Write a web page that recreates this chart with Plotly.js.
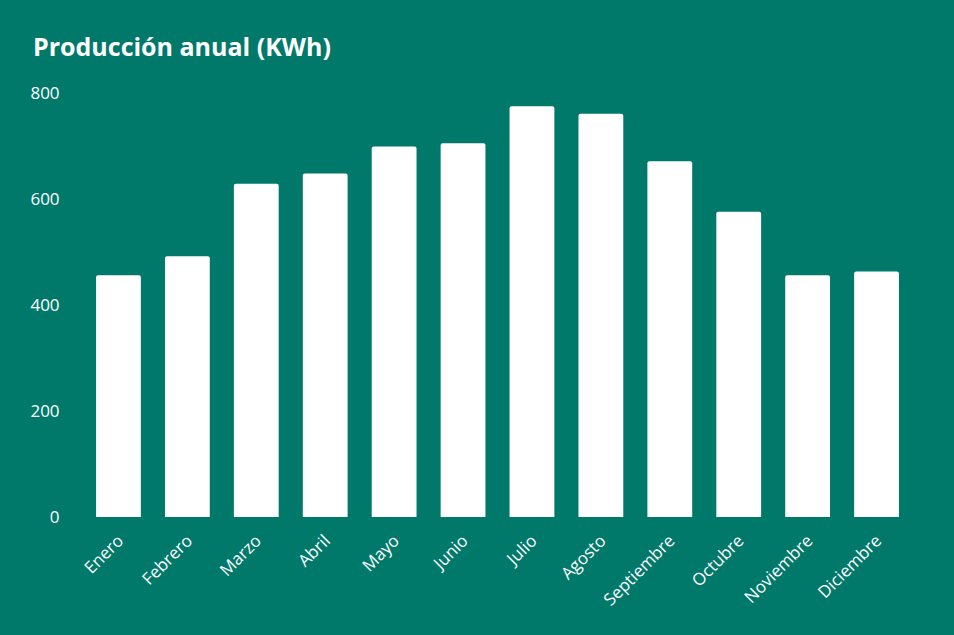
<!DOCTYPE html>
<html>
<head>
<meta charset="utf-8">
<script src="https://cdn.plot.ly/plotly-3.0.1.min.js"></script>
<style>html,body{margin:0;padding:0;background:#00796B;}#chart{width:954px;height:635px;}</style>
</head>
<body>
<div id="chart"></div>
<script>
const months = ["Enero","Febrero","Marzo","Abril","Mayo","Junio","Julio","Agosto","Septiembre","Octubre","Noviembre","Diciembre"];
const production = [456, 492, 629, 648, 699, 705, 775, 761, 671, 576, 456, 463];
const yTicks = [0, 200, 400, 600, 800];

const bg = "#00796B";
const font = "Open Sans, Segoe UI, sans-serif";

Plotly.newPlot("chart", [{
  type: "bar",
  x: months,
  y: production,
  marker: {color: "#FFFFFF", cornerradius: 2, line: {width: 0}},
  hoverinfo: "x+y"
}], {
  width: 954, height: 635,
  paper_bgcolor: bg, plot_bgcolor: bg,
  margin: {l: 84, r: 43, t: 93, b: 118},
  bargap: 0.35,
  showlegend: false,
  title: {
    text: "<b>Producción anual (KWh)</b>",
    font: {family: font, size: 25, color: "#FFFFFF"},
    x: 33/954, xanchor: "left", xref: "container",
    y: 1 - 47/635, yanchor: "middle", yref: "container"
  },
  xaxis: {
    tickangle: -45,
    tickfont: {family: font, size: 17, color: "#FFFFFF"},
    showgrid: false, zeroline: false, showline: false,
    ticks: "outside", ticklen: 6, tickcolor: "rgba(0,0,0,0)"
  },
  yaxis: {
    range: [0, 800],
    tickvals: yTicks,
    ticktext: yTicks.map(String),
    tickfont: {family: font, size: 17, color: "#FFFFFF"},
    showgrid: false, zeroline: false, showline: false,
    ticks: "outside", ticklen: 20, tickcolor: "rgba(0,0,0,0)"
  }
}, {displayModeBar: false, staticPlot: true});
</script>
</body>
</html>
